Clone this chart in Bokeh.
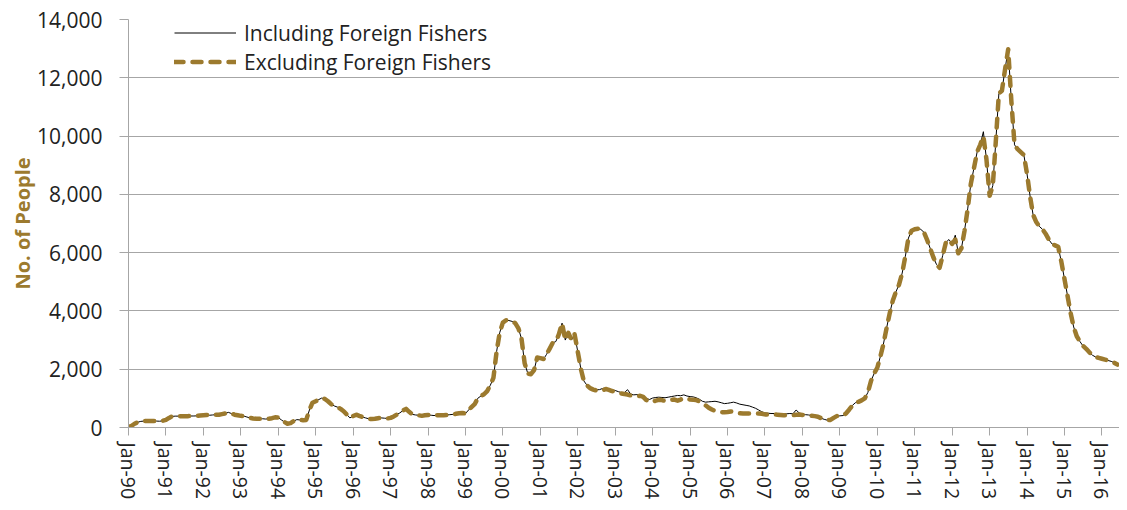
import pandas as pd
from bokeh.plotting import figure
from bokeh.models import (FixedTicker, NumeralTickFormatter, DatetimeTickFormatter,
                          Legend, LegendItem, Range1d, ColumnDataSource)
from bokeh.embed import file_html
from bokeh.resources import INLINE

# ---------------- data (monthly, Jan-1990 .. Jun-2016) ----------------
start_month = "1990-01-01"

excluding = [
    20, 60, 130, 180, 210, 220, 225, 220, 220, 220, 215, 230,              # 1990
    260, 330, 380, 390, 390, 385, 390, 390, 395, 395, 400, 410,            # 1991
    420, 430, 420, 430, 440, 440, 460, 480, 520, 480, 440, 420,            # 1992
    400, 390, 360, 330, 310, 300, 300, 300, 290, 300, 320, 350,            # 1993
    340, 260, 190, 130, 150, 220, 270, 260, 250, 260, 600, 850,            # 1994
    900, 960, 1010, 980, 900, 800, 740, 700, 640, 560, 440, 330,           # 1995
    390, 440, 400, 360, 330, 300, 290, 300, 320, 330, 320, 310,            # 1996
    330, 380, 440, 500, 580, 640, 540, 450, 430, 420, 400, 420,            # 1997
    430, 420, 410, 420, 420, 420, 430, 440, 450, 470, 490, 500,            # 1998
    480, 600, 700, 800, 1000, 1080, 1140, 1250, 1450, 1700, 2600, 3250,    # 1999
    3600, 3680, 3670, 3640, 3580, 3400, 3050, 2200, 1850, 1830, 1970, 2400,  # 2000
    2380, 2350, 2500, 2700, 2900, 2950, 3200, 3580, 3000, 3250, 3000, 3200,  # 2001
    2600, 2000, 1600, 1450, 1350, 1300, 1270, 1250, 1280, 1320, 1290, 1250,  # 2002
    1240, 1200, 1170, 1150, 1130, 1100, 1080, 1070, 1090, 1050, 940, 870,  # 2003
    890, 920, 950, 940, 910, 920, 950, 960, 920, 960, 1010, 990,           # 2004
    960, 950, 940, 900, 850, 760, 680, 620, 570, 550, 530, 520,            # 2005
    530, 550, 540, 510, 490, 480, 480, 480, 480, 480, 480, 470,            # 2006
    450, 440, 440, 445, 440, 430, 420, 415, 410, 420, 440, 445,            # 2007
    430, 425, 420, 400, 390, 370, 320, 280, 250, 260, 330, 390,            # 2008
    400, 410, 480, 610, 750, 850, 880, 930, 1000, 1200, 1600, 1850,        # 2009
    2050, 2450, 2850, 3400, 3900, 4350, 4650, 4900, 5300, 5860, 6500, 6750,  # 2010
    6800, 6820, 6800, 6700, 6450, 6150, 5850, 5600, 5480, 5900, 6350, 6450,  # 2011
    6300, 6450, 5980, 6150, 6750, 7500, 8350, 8900, 9450, 9700, 10000, 9200,  # 2012
    7950, 8300, 9750, 11450, 11560, 12300, 12980, 11200, 9700, 9550, 9450, 9350,  # 2013
    8700, 7900, 7300, 7050, 6900, 6800, 6650, 6450, 6300, 6250, 6200, 5700,  # 2014
    5100, 4500, 3950, 3450, 3130, 2950, 2800, 2700, 2580, 2480, 2420, 2390,  # 2015
    2360, 2330, 2300, 2270, 2220, 2160,                                    # 2016
]

including = [
    20, 60, 130, 180, 210, 220, 225, 220, 220, 220, 215, 230,              # 1990
    260, 330, 380, 390, 390, 385, 390, 390, 395, 395, 400, 410,            # 1991
    420, 430, 420, 430, 440, 440, 460, 480, 520, 480, 440, 420,            # 1992
    400, 390, 360, 330, 310, 300, 300, 300, 290, 300, 320, 350,            # 1993
    340, 260, 190, 130, 150, 220, 270, 260, 250, 260, 600, 850,            # 1994
    900, 960, 1010, 980, 900, 800, 740, 700, 640, 560, 440, 330,           # 1995
    390, 440, 400, 360, 330, 300, 290, 300, 320, 330, 320, 310,            # 1996
    330, 380, 440, 500, 580, 640, 540, 450, 430, 420, 400, 420,            # 1997
    430, 420, 410, 420, 420, 420, 430, 440, 450, 470, 490, 500,            # 1998
    480, 600, 700, 800, 1000, 1080, 1140, 1250, 1450, 1700, 2600, 3250,    # 1999
    3600, 3680, 3670, 3640, 3580, 3400, 3050, 2200, 1850, 1830, 1970, 2400,  # 2000
    2380, 2350, 2500, 2700, 2900, 2950, 3200, 3580, 3000, 3250, 3000, 3200,  # 2001
    2600, 2000, 1600, 1450, 1350, 1300, 1290, 1300, 1340, 1350, 1320, 1290,  # 2002
    1270, 1230, 1200, 1190, 1300, 1150, 1120, 1130, 1100, 1070, 1000, 960,  # 2003
    1010, 1030, 1040, 1030, 1020, 1040, 1060, 1080, 1100, 1090, 1120, 1080,  # 2004
    1060, 1050, 1020, 970, 900, 870, 880, 890, 900, 880, 850, 820,         # 2005
    830, 850, 870, 840, 800, 780, 760, 740, 700, 660, 600, 540,            # 2006
    500, 490, 480, 480, 478, 479, 470, 470, 480, 470, 600, 500,            # 2007
    460, 440, 430, 410, 390, 370, 320, 280, 250, 260, 330, 390,            # 2008
    400, 410, 480, 610, 750, 850, 880, 930, 1000, 1200, 1600, 1850,        # 2009
    2050, 2450, 2850, 3400, 3900, 4350, 4650, 4900, 5300, 5860, 6500, 6750,  # 2010
    6800, 6820, 6800, 6700, 6450, 6150, 5850, 5600, 5480, 5900, 6350, 6450,  # 2011
    6300, 6600, 5980, 6150, 6750, 7500, 8350, 8900, 9450, 9700, 10150, 9200,  # 2012
    7950, 8300, 9750, 11450, 11560, 12300, 12980, 11200, 9700, 9550, 9450, 9350,  # 2013
    8700, 7900, 7300, 7050, 6900, 6800, 6650, 6450, 6300, 6250, 6200, 5700,  # 2014
    5100, 4500, 3950, 3450, 3130, 2950, 2800, 2700, 2580, 2480, 2420, 2390,  # 2015
    2360, 2330, 2300, 2270, 2220, 2160,                                    # 2016
]

x_tick_labels = ["Jan-90", "Jan-91", "Jan-92", "Jan-93", "Jan-94", "Jan-95", "Jan-96",
                 "Jan-97", "Jan-98", "Jan-99", "Jan-00", "Jan-01", "Jan-02", "Jan-03",
                 "Jan-04", "Jan-05", "Jan-06", "Jan-07", "Jan-08", "Jan-09", "Jan-10",
                 "Jan-11", "Jan-12", "Jan-13", "Jan-14", "Jan-15", "Jan-16"]
y_ticks = [0, 2000, 4000, 6000, 8000, 10000, 12000, 14000]

series_names = ["Including Foreign Fishers", "Excluding Foreign Fishers"]

# ---------------- styling ----------------
FONT = "Open Sans"
TEXT = "#222222"
BROWN = "#9C7A2E"
GRID = "#A6A6A6"

dates = pd.date_range(start_month, periods=len(excluding), freq="MS")
src = ColumnDataSource(data=dict(date=dates, inc=including, exc=excluding))

epoch = pd.Timestamp("1970-01-01")
def to_ms(ts):
    return (ts - epoch) // pd.Timedelta(milliseconds=1)

tick_ms = [to_ms(pd.to_datetime(lbl, format="%b-%y")) for lbl in x_tick_labels]

p = figure(width=1119, height=502, x_axis_type="datetime",
           output_backend="svg", toolbar_location=None,
           x_range=Range1d(start=dates[0], end=dates[-1] + pd.Timedelta(days=20)),
           y_range=Range1d(start=y_ticks[0], end=y_ticks[-1]),
           min_border_left=128, min_border_top=19, min_border_right=0,
           min_border_bottom=74)
p.outline_line_color = None
p.background_fill_color = "white"
p.border_fill_color = "white"

# grid
p.xgrid.grid_line_color = None
p.ygrid.grid_line_color = GRID
p.ygrid.grid_line_width = 1
p.ygrid.ticker = FixedTicker(ticks=y_ticks)

# y axis
p.yaxis.ticker = FixedTicker(ticks=y_ticks)
p.yaxis.formatter = NumeralTickFormatter(format="0,0")
p.yaxis.axis_line_color = GRID
p.yaxis.major_tick_line_color = GRID
p.yaxis.major_tick_out = 9
p.yaxis.major_tick_in = 0
p.yaxis.minor_tick_line_color = None
p.yaxis.major_label_standoff = 17
p.yaxis.major_label_text_font = FONT
p.yaxis.major_label_text_font_size = "21px"
p.yaxis.major_label_text_color = TEXT
p.yaxis.axis_label = "No. of People"
p.yaxis.axis_label_text_font = FONT
p.yaxis.axis_label_text_font_size = "20px"
p.yaxis.axis_label_text_font_style = "bold"
p.yaxis.axis_label_text_color = BROWN
p.yaxis.axis_label_standoff = -2

# x axis
p.xaxis.ticker = FixedTicker(ticks=tick_ms)
fmt = "%b-%y"
p.xaxis.formatter = DatetimeTickFormatter(
    milliseconds=fmt, seconds=fmt, minsec=fmt, minutes=fmt, hourmin=fmt,
    hours=fmt, days=fmt, months=fmt, years=fmt)
p.xaxis.major_label_orientation = "vertical"
p.xaxis.axis_line_color = GRID
p.xaxis.major_tick_line_color = GRID
p.xaxis.major_tick_out = 8
p.xaxis.major_tick_in = 0
p.xaxis.minor_tick_line_color = None
p.xaxis.major_label_standoff = 7
p.xaxis.major_label_text_font = FONT
p.xaxis.major_label_text_font_size = "19.5px"
p.xaxis.major_label_text_color = TEXT

# lines
r_inc = p.line("date", "inc", source=src, line_color="black", line_width=1)
r_exc = p.line("date", "exc", source=src, line_color=BROWN, line_width=4.5,
               line_dash="9 9", line_cap="round", line_join="round")

legend = Legend(items=[LegendItem(label=series_names[0], renderers=[r_inc]),
                       LegendItem(label=series_names[1], renderers=[r_exc])],
                location=(46, 351), padding=0, margin=0, spacing=0,
                glyph_width=62, glyph_height=29, label_height=29,
                label_standoff=8, label_text_font=FONT,
                label_text_font_size="21px", label_text_color=TEXT,
                border_line_color=None, background_fill_alpha=0)
p.add_layout(legend)

open("out.html", "w").write(file_html(p, INLINE))
